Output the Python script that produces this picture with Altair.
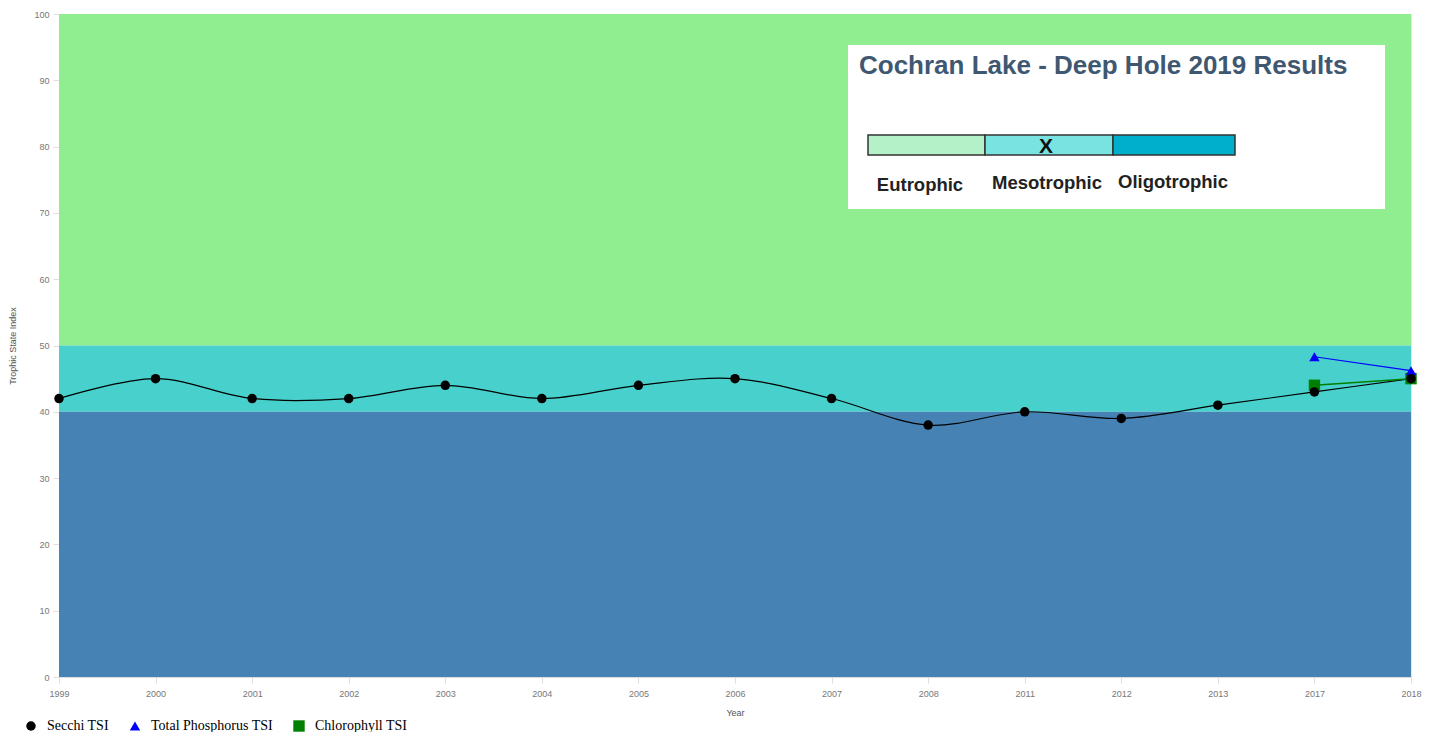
import altair as alt
import pandas as pd

years = ["1999", "2000", "2001", "2002", "2003", "2004", "2005", "2006",
         "2007", "2008", "2011", "2012", "2013", "2017", "2018"]
secchi = [42, 45, 42, 42, 44, 42, 44, 45, 42, 38, 40, 39, 41, 43, 45]
tp_years = ["2017", "2018"]
tp_vals = [48.3, 46.2]
chl_years = ["2017", "2018"]
chl_vals = [44, 45]

band_lo = [50, 40, 0]
band_hi = [100, 50, 40]
band_colors = ["#90EE90", "#48D1CC", "#4682B4"]

series_names = ["Secchi TSI", "Total Phosphorus TSI", "Chlorophyll TSI"]
series_colors = ["#000000", "#0000FF", "#008000"]
series_shapes = ["circle", "triangle-up", "square"]
series_sizes = [90, 130, 55]

inset_title = "Cochran Lake - Deep Hole 2019 Results"
inset_labels = ["Eutrophic", "Mesotrophic", "Oligotrophic"]
inset_colors = ["#B4F0C8", "#78E3E0", "#00AFCC"]

W, H = 1352, 663

rows = []
for y, v in zip(chl_years, chl_vals):
    rows.append({"Year": y, "TSI": v, "Series": series_names[2]})
for y, v in zip(tp_years, tp_vals):
    rows.append({"Year": y, "TSI": v, "Series": series_names[1]})
for y, v in zip(years, secchi):
    rows.append({"Year": y, "TSI": v, "Series": series_names[0]})
df = pd.DataFrame(rows)

bands = pd.DataFrame({"lo": band_lo, "hi": band_hi, "c": band_colors})

xenc = alt.X("Year:O", sort=years,
             scale=alt.Scale(type="point", padding=0, domain=years),
             axis=alt.Axis(title="Year", labelAngle=0, labelFontSize=9,
                           labelColor="#777", titleFontSize=9, titleColor="#555",
                           titleFontWeight="normal", grid=True, gridColor="#e6e6e6",
                           tickColor="#ddd", domainColor="#ddd", labelPadding=6,
                           titlePadding=10, tickSize=6))
yscale = alt.Scale(domain=[0, 100], nice=False)
yaxis = alt.Axis(title="Trophic State Index", values=list(range(0, 101, 10)),
                 labelFontSize=9, labelColor="#777", titleFontSize=9,
                 titleColor="#555", titleFontWeight="normal", grid=False,
                 domain=False, ticks=True, tickColor="#ddd", tickSize=6,
                 labelPadding=4, titlePadding=16)

band_layer = alt.Chart(bands).mark_rect(opacity=1).encode(
    x=alt.value(0), x2=alt.value(W),
    y=alt.Y("lo:Q", scale=yscale, axis=yaxis), y2="hi:Q",
    fill=alt.Fill("c:N", scale=None, legend=None),
)

base = alt.Chart(df)

secchi_line = base.transform_filter(alt.datum.Series == series_names[0]).mark_line(
    interpolate="cardinal", color="#000000", strokeWidth=1.2).encode(
    x=xenc, y=alt.Y("TSI:Q", scale=yscale))
tp_line = base.transform_filter(alt.datum.Series == series_names[1]).mark_line(
    color="#0000FF", strokeWidth=1.2).encode(
    x=xenc, y=alt.Y("TSI:Q", scale=yscale))
chl_line = base.transform_filter(alt.datum.Series == series_names[2]).mark_line(
    color="#008000", strokeWidth=1.5).encode(
    x=xenc, y=alt.Y("TSI:Q", scale=yscale))

legend = alt.Legend(title=None, orient="none", direction="horizontal",
                    legendX=-35, legendY=705, labelFont="Liberation Serif",
                    labelFontSize=14, labelColor="#000", symbolSize=50,
                    columnPadding=19, labelOffset=9, symbolStrokeWidth=0)

points = base.mark_point(filled=True, opacity=1).encode(
    x=xenc, y=alt.Y("TSI:Q", scale=yscale),
    color=alt.Color("Series:N", scale=alt.Scale(domain=series_names, range=series_colors), legend=legend),
    shape=alt.Shape("Series:N", scale=alt.Scale(domain=series_names, range=series_shapes), legend=legend),
    size=alt.Size("Series:N", scale=alt.Scale(domain=series_names, range=series_sizes), legend=None),
)

# Inset annotation box
inset_df = pd.DataFrame({"t": [inset_title]})
box = alt.Chart(inset_df).mark_rect(fill="white").encode(
    x=alt.value(789), x2=alt.value(1326), y=alt.value(31), y2=alt.value(195))
title_txt = alt.Chart(inset_df).mark_text(
    align="left", baseline="alphabetic", font="Liberation Sans", fontSize=26,
    fontWeight="bold", fill="#3F5871").encode(
    x=alt.value(800), y=alt.value(60), text="t:N")

seg_df = pd.DataFrame({"name": inset_labels, "c": inset_colors,
                       "x0": [809, 926, 1054], "x1": [926, 1054, 1176],
                       "lx": [861, 988, 1114], "ly": [177, 175, 174]})
segs = alt.Chart(seg_df).mark_rect(stroke="#333", strokeWidth=1.5).encode(
    x=alt.X("x0:Q", scale=None), x2="x1:Q",
    y=alt.value(121), y2=alt.value(141),
    fill=alt.Fill("c:N", scale=None, legend=None))
seg_lbl = alt.Chart(seg_df).mark_text(
    font="Liberation Sans", fontSize=18.5, fontWeight="bold", fill="#222",
    align="center", baseline="alphabetic").encode(
    x=alt.X("lx:Q", scale=None), y=alt.Y("ly:Q", scale=None), text="name:N")
xmark = alt.Chart(pd.DataFrame({"t": ["X"]})).mark_text(
    font="Liberation Sans", fontSize=21, fontWeight="bold", fill="#111",
    align="center", baseline="middle").encode(
    x=alt.value(987), y=alt.value(133), text="t:N")

chart = alt.layer(band_layer, secchi_line, tp_line, chl_line, points,
                  box, title_txt, segs, seg_lbl, xmark).properties(
    width=W, height=H,
    autosize=alt.AutoSizeParams(type="none"),
    padding={"left": 51, "top": 6, "right": 16, "bottom": 55},
).configure_view(stroke=None).configure(background="white")

chart.save("out.html", embed_options={"renderer": "svg", "actions": False})
